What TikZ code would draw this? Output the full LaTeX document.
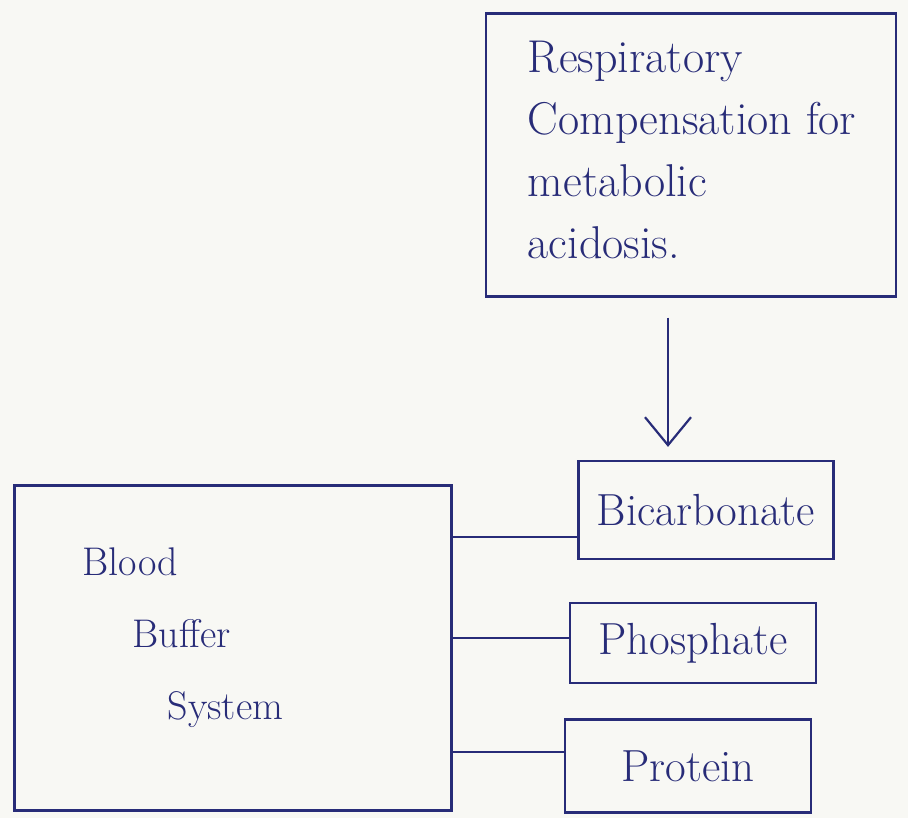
\documentclass[tikz,border=0pt]{standalone}
\usetikzlibrary{arrows.meta}
\definecolor{ink}{RGB}{40,44,120}
\definecolor{paper}{RGB}{248,248,244}
\begin{document}
\begin{tikzpicture}[x=1pt,y=-1pt,
  inkline/.style={draw=ink,line width=2.2pt},
  box/.style={inkline,rectangle,inner sep=0pt,text=ink},
  lbl/.style={font=\fontsize{45}{50}\selectfont},
  txt/.style={text=ink,font=\fontsize{46}{62}\selectfont,align=left,inner sep=0pt}]
\fill[paper] (0,0) rectangle (908,818);
\useasboundingbox (0,0) rectangle (908,818);
% top box
\node[box,minimum width=410pt,minimum height=283pt] (resp) at (691,155) {};
\node[txt] (resptext) at (692,150) {Respiratory\\Compensation for\\metabolic\\acidosis.};
% right boxes
\node[box,lbl,minimum width=255pt,minimum height=98pt] (bicarb) at (706,510) {Bicarbonate};
\node[box,lbl,minimum width=246pt,minimum height=80pt] (phos) at (693,643) {Phosphate};
\node[box,lbl,minimum width=246pt,minimum height=93pt] (prot) at (688,766) {Protein};
% big box
\node[box,minimum width=437pt,minimum height=325pt] (bbs) at (233,648) {};
\node[txt,font=\fontsize{40}{72}\selectfont] (bbstext) at (183,638) {Blood\\\hspace{50pt}Buffer\\\hspace{85pt}System};
% arrow
\coordinate (ax) at (668,0);
\draw[inkline,-{Straight Barb[length=28pt,width=46pt]},shorten <=20pt,shorten >=13pt]
  (resp.south -| ax) -- (bicarb.north -| ax);
% connectors
\draw[inkline] ([yshift=-27pt]bicarb.west) -- ([yshift=-27pt]bicarb.west -| bbs.east);
\draw[inkline] ([yshift=5pt]phos.west) -- ([yshift=5pt]phos.west -| bbs.east);
\draw[inkline] ([yshift=14pt]prot.west) -- ([yshift=14pt]prot.west -| bbs.east);
\end{tikzpicture}
\end{document}
